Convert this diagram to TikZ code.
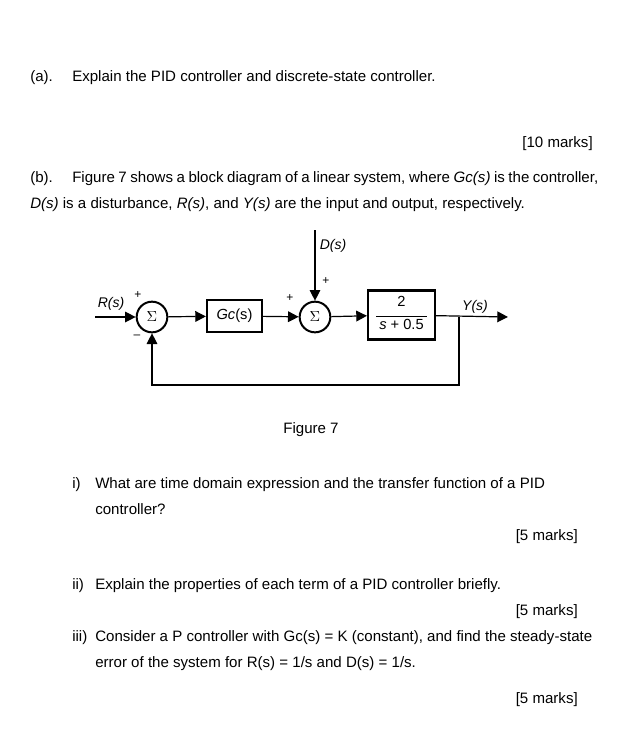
\documentclass[tikz,border=0pt]{standalone}
\usepackage{fontspec}
\setmainfont{Liberation Sans}
\usetikzlibrary{arrows.meta}
\tikzset{
  txt/.style={anchor=base west,inner sep=0pt,font=\fontsize{11.3}{13}\selectfont},
  sumnode/.style={circle,draw,line width=1.5pt,minimum size=23pt,inner sep=0pt,font=\fontsize{11}{12}\selectfont},
  blk/.style={draw,line width=1.8pt,inner sep=0pt,font=\fontsize{11}{12}\selectfont},
  sig/.style={font=\fontsize{10.5}{12}\selectfont\itshape,inner sep=1pt},
  sgn/.style={font=\fontsize{9}{10}\selectfont,inner sep=0pt},
  flow/.style={-{Triangle[length=8pt,width=8pt]},line width=0.9pt}
}
\newcommand{\itemlbl}[1]{\makebox[17.25pt][l]{#1}}
\begin{document}
\begin{tikzpicture}[x=0.75pt,y=-0.75pt]
\useasboundingbox (0,0) rectangle (628,733);
% questions
\node[txt] (qa) at (30,81) {(a).};
\node[txt] (qatxt) at (72,81) {Explain the PID controller and discrete-state controller.};
\node[txt,anchor=base east] (mk1) at (593,147) {[10 marks]};
\node[txt] (qb) at (30,182) {(b).};
\node[txt] (qbtxt) at (72,182) {\makebox[394.5pt][s]{Figure 7 shows a block diagram of a linear system, where \textit{Gc(s)} is the controller,}};
\node[txt] (qbtxt2) at (30,208) {\textit{D(s)} is a disturbance, \textit{R(s)}, and \textit{Y(s)} are the input and output, respectively.};
% block diagram
\node[sumnode] (sa) at (152,317) {$\Sigma$};
\node[blk,minimum width=41pt,minimum height=24pt] (gc) at (234.5,316) {\textit{Gc}(s)};
\node[sumnode] (sb) at (315,317) {$\Sigma$};
\node[blk,minimum width=47pt,minimum height=37pt] (gp) at (401.5,315)
  {$\vcenter{\hbox{\fontsize{11}{12}\selectfont\begin{tabular}{c}2\\[-5pt]\rule{38pt}{0.4pt}\\[-2pt]\textit{s} + 0.5\end{tabular}}}$};
\coordinate (rin) at (95,317);
\coordinate (din) at (315,230);
\coordinate (yout) at (508,317);
\coordinate (br) at (459,317);
\draw[flow] (rin) -- (sa);
\draw[flow] (sa) -- (gc);
\draw[flow] (gc) -- (sb);
\draw[flow] (din) -- (sb);
\draw[flow] (sb) -- (gp);
\draw[flow] (gp) -- (yout);
\draw[flow] (br) |- (152,385) -- (sa);
\node[sig] (rl) at (111,304) {R(s)};
\node[sig] (dl) at (333,246) {D(s)};
\node[sig] (yl) at (475,307) {Y(s)};
\node[sgn] (p1) at (138,295) {+};
\node[sgn] (m1) at (137,337) {--};
\node[sgn] (p2) at (290,298) {+};
\node[sgn] (p3) at (326,281) {+};
\node[txt,anchor=base] (fig) at (311,433) {Figure 7};
% sub-questions
\node[txt] (q1) at (72,488) {\itemlbl{i)}What are time domain expression and the transfer function of a PID};
\node[txt] (q1b) at (95,514) {controller?};
\node[txt,anchor=base east] (mk2) at (578,540) {[5 marks]};
\node[txt] (q2) at (72,589) {\itemlbl{ii)}Explain the properties of each term of a PID controller briefly.};
\node[txt,anchor=base east] (mk3) at (578,615) {[5 marks]};
\node[txt] (q3) at (72,641) {\itemlbl{iii)}Consider a P controller with Gc(s) = K (constant), and find the steady-state};
\node[txt] (q3b) at (95,667) {error of the system for R(s) = 1/s and D(s) = 1/s.};
\node[txt,anchor=base east] (mk4) at (578,703) {[5 marks]};
\end{tikzpicture}
\end{document}
